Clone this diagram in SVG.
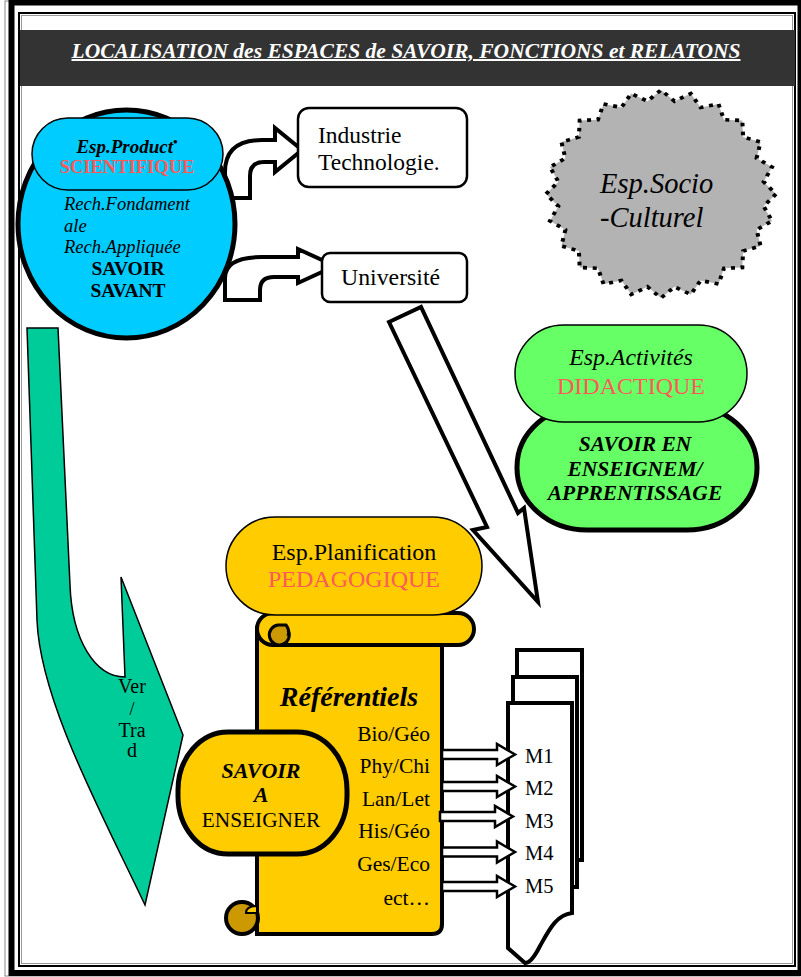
<svg xmlns="http://www.w3.org/2000/svg" width="801" height="977" viewBox="0 0 801 977" font-family="'Liberation Serif','Times New Roman',serif">
<style>
text{font-family:"Liberation Serif","Times New Roman",serif;fill:#000}
.it{font-style:italic}
.b{font-weight:bold}
.red{fill:#FF5A5A}
.mid{text-anchor:middle}
.end{text-anchor:end}
</style>
<defs>
<path id="sarrow" d="M0,-4.5 L55,-4.5 L55,-10.5 L73,0 L55,10.5 L55,4.5 L0,4.5 Z" fill="#fff" stroke="#000" stroke-width="2.5"/>
</defs>
<rect width="801" height="977" fill="#fff"/>
<g id="frame" fill="none">
<rect x="5" y="1" width="795" height="975" stroke="#888" stroke-width="1"/>
<rect x="11.5" y="2.5" width="789" height="970.5" stroke="#000" stroke-width="6"/>
<rect x="19" y="13" width="776" height="953" stroke="#000" stroke-width="2"/>
<rect x="21.5" y="15.5" width="771" height="948" stroke="#999" stroke-width="1"/>
</g>
<g id="header">
<rect x="20" y="30" width="775" height="56" fill="#333"/>
<text x="406" y="58" class="it b mid" font-size="20" style="fill:#fff" text-decoration="underline" textLength="669" lengthAdjust="spacingAndGlyphs">LOCALISATION des ESPACES de SAVOIR, FONCTIONS et RELATONS</text>
</g>
<g id="vertrad">
<path d="M27,328 L58,328 L70,585 C72,640 95,677 125,677 L121,577 L183,735 L145,905 C100,810 40,700 37,620 Z" fill="#00CC99" stroke="#000" stroke-width="1.5"/>
<text x="132" y="693" class="mid" font-size="20">Ver</text>
<text x="132" y="715" class="mid" font-size="18">/</text>
<text x="132" y="737" class="mid" font-size="20">Tra</text>
<text x="132" y="757" class="mid" font-size="20">d</text>
</g>
<g id="connectors">
<path d="M225,198 L225,172 Q225,140 262,140 L275,140 L275,128 L302,150 L275,172 L275,162 L264,162 Q250,162 250,176 L250,198 Z" fill="#fff" stroke="#000" stroke-width="4"/>
<path d="M225,300 L225,278 Q225,257 262,257 L298,257 L298,249 L335,266 L298,283 L298,277 L274,277 Q260,277 260,290 L260,300 Z" fill="#fff" stroke="#000" stroke-width="4"/>
</g>
<g id="scientifique">
<ellipse cx="126.5" cy="224" rx="108.5" ry="114" fill="#00CCFF" stroke="#000" stroke-width="5"/>
<rect x="32" y="118" width="191" height="72" rx="36" fill="#00CCFF" stroke="#000" stroke-width="1.5"/>
<text x="127" y="153" class="it b mid" font-size="19">Esp.Product<tspan font-size="13" dy="-7">•</tspan></text>
<text x="127" y="173" dy="0" class="b mid red" font-size="18.5">SCIENTIFIQUE</text>
<text x="64" y="210" class="it" font-size="18.5">Rech.Fondament</text>
<text x="64" y="232" class="it" font-size="18.5">ale</text>
<text x="64" y="253" class="it" font-size="18.5">Rech.Appliquée</text>
<text x="128" y="275" class="b mid" font-size="19.5">SAVOIR</text>
<text x="128" y="297" class="b mid" font-size="19.5">SAVANT</text>
</g>
<g id="industrie">
<rect x="298" y="108" width="169" height="79" rx="11" fill="#fff" stroke="#000" stroke-width="2.5"/>
<text x="318" y="143" font-size="23.5">Industrie</text>
<text x="318" y="170" font-size="23.5">Technologie.</text>
</g>
<g id="universite">
<rect x="322" y="253" width="145" height="49" rx="8" fill="#fff" stroke="#000" stroke-width="2.5"/>
<text x="341" y="285" font-size="23.8">Université</text>
</g>
<g id="socio">
<g transform="translate(661,194) scale(1.15,1.04)">
<polygon points="100,0 89.23,11.75 96.59,25.88 83.15,34.44 86.6,50 71.4,54.79 70.71,70.71 54.79,71.4 50,86.6 34.44,83.15 25.88,96.59 11.75,89.23 0,100 -11.75,89.23 -25.88,96.59 -34.44,83.15 -50,86.6 -54.79,71.4 -70.71,70.71 -71.4,54.79 -86.6,50 -83.15,34.44 -96.59,25.88 -89.23,11.75 -100,0 -89.23,-11.75 -96.59,-25.88 -83.15,-34.44 -86.6,-50 -71.4,-54.79 -70.71,-70.71 -54.79,-71.4 -50,-86.6 -34.44,-83.15 -25.88,-96.59 -11.75,-89.23 0,-100 11.75,-89.23 25.88,-96.59 34.44,-83.15 50,-86.6 54.79,-71.4 70.71,-70.71 71.4,-54.79 86.6,-50 83.15,-34.44 96.59,-25.88 89.23,-11.75" fill="#B3B3B3" stroke="#000" stroke-width="3.5" stroke-dasharray="3.5 5"/>
</g>
<text x="600" y="193" class="it" font-size="28.5">Esp.Socio</text>
<text x="600" y="227" class="it" font-size="28.5">-Culturel</text>
</g>
<g id="didactique">
<rect x="517" y="405" width="240" height="125" rx="70" ry="62" fill="#66FF66" stroke="#000" stroke-width="5"/>
<rect x="515" y="325" width="232" height="97" rx="48.5" fill="#66FF66" stroke="#000" stroke-width="1.5"/>
<text x="631" y="365" class="it mid" font-size="23.8">Esp.Activités</text>
<text x="631" y="394" class="mid red" font-size="24">DIDACTIQUE</text>
<text x="635" y="451" class="it b mid" font-size="21.5">SAVOIR EN</text>
<text x="635" y="476" class="it b mid" font-size="21.5">ENSEIGNEM/</text>
<text x="635" y="500" class="it b mid" font-size="21.5">APPRENTISSAGE</text>
</g>
<g id="bigarrow">
<polygon points="389,322 421,307 518,513 524,508 538,602 473,530 487,527" fill="#fff" stroke="#000" stroke-width="4"/>
</g>
<g id="docs">
<rect x="517" y="650" width="65" height="210" fill="#fff" stroke="#000" stroke-width="4"/>
<rect x="513" y="677" width="64" height="210" fill="#fff" stroke="#000" stroke-width="4"/>
<path d="M508,703 L572,703 L572,913 C556,915 549,930 540,946 C535,956 530,963 525,963 L508,948 Z" fill="#fff" stroke="#000" stroke-width="4"/>
<text x="525" y="763" font-size="20.5">M1</text>
<text x="525" y="795" font-size="20.5">M2</text>
<text x="525" y="828" font-size="20.5">M3</text>
<text x="525" y="860" font-size="20.5">M4</text>
<text x="525" y="893" font-size="20.5">M5</text>
</g>
<g id="pedagogique">
<path d="M257,628 L257,934 L432,934 Q442,934 442,924 L442,640 Z" fill="#FFCC00" stroke="#000" stroke-width="4"/>
<rect x="257" y="613" width="217" height="32" rx="16" fill="#FFCC00" stroke="#000" stroke-width="4"/>
<path d="M288,630 A10,10 0 1 1 278,625 L286,625 Q290,630 288,636" fill="#CC9900" stroke="#000" stroke-width="3"/>
<circle cx="242" cy="918" r="16" fill="#CC9900" stroke="#000" stroke-width="4"/>
<path d="M257,906 Q246,906 246,913 L257,913 Z" fill="#FFCC00" stroke="#000" stroke-width="2"/>
<rect x="226" y="517" width="256" height="98" rx="49" fill="#FFCC00" stroke="#000" stroke-width="1.5"/>
<text x="354" y="560" class="mid" font-size="24">Esp.Planification</text>
<text x="354" y="587" class="mid red" font-size="24">PEDAGOGIQUE</text>
<text x="349" y="706" class="it b mid" font-size="28">Référentiels</text>
<text x="430" y="741" class="end" font-size="21.5">Bio/Géo</text>
<text x="430" y="773" class="end" font-size="21.5">Phy/Chi</text>
<text x="430" y="806" class="end" font-size="21.5">Lan/Let</text>
<text x="430" y="838" class="end" font-size="21.5">His/Géo</text>
<text x="430" y="871" class="end" font-size="21.5">Ges/Eco</text>
<text x="430" y="905" class="end" font-size="21.5">ect…</text>
</g>
<g id="enseigner">
<rect x="178" y="732" width="169" height="122" rx="50" ry="58" fill="#FFCC00" stroke="#000" stroke-width="5"/>
<text x="261" y="778" class="it b mid" font-size="22">SAVOIR</text>
<text x="261" y="802" class="it b mid" font-size="22">A</text>
<text x="261" y="827" class="mid" font-size="21.3">ENSEIGNER</text>
</g>
<g id="smallarrows">
<use href="#sarrow" x="442" y="754.5"/>
<use href="#sarrow" x="442" y="786.5"/>
<use href="#sarrow" x="440" y="816.5"/>
<use href="#sarrow" x="442" y="852"/>
<use href="#sarrow" x="442" y="886.5"/>
</g>
</svg>
